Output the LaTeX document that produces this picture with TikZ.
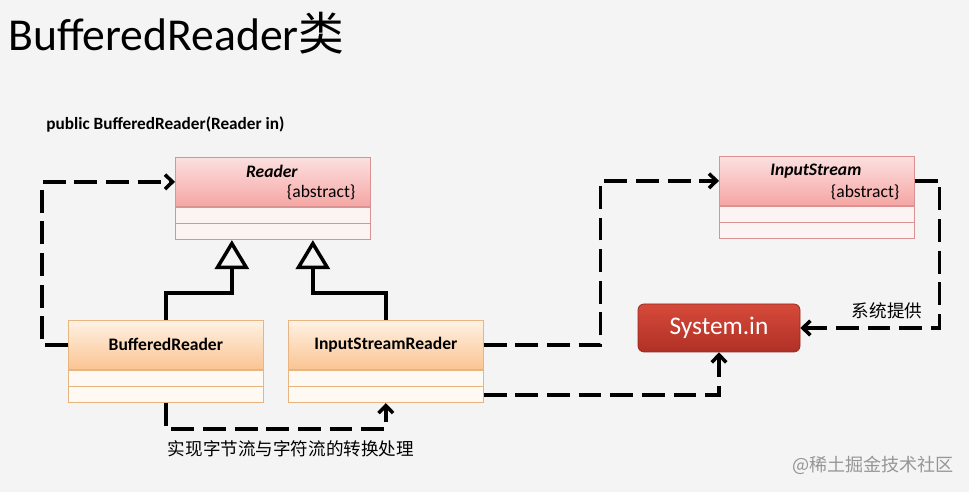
\documentclass[tikz,border=0pt]{standalone}
\usepackage{fontspec}
\setmainfont{Carlito}
\newfontfamily\cjk{Noto Sans CJK SC}
\usetikzlibrary{arrows.meta, positioning, calc}
\definecolor{PageGray}{RGB}{244, 244, 244}
\definecolor{PinkTop}{RGB}{252, 224, 224}
\definecolor{PinkBottom}{RGB}{245, 166, 164}
\definecolor{PinkLine}{RGB}{218, 146, 146}
\definecolor{PinkBody}{RGB}{252, 243, 243}
\definecolor{OrangeTop}{RGB}{255, 242, 228}
\definecolor{OrangeBottom}{RGB}{250, 196, 146}
\definecolor{OrangeLine}{RGB}{232, 180, 128}
\definecolor{OrangeBody}{RGB}{255, 249, 243}
\definecolor{SysTop}{RGB}{214, 74, 58}
\definecolor{SysBottom}{RGB}{176, 48, 38}
\definecolor{MarkGray}{RGB}{150, 150, 150}

\begin{document}
\begin{tikzpicture}[x=0.2mm, y=-0.2mm, font=\fontsize{10}{12}\selectfont,
    abshead/.style={draw=PinkLine, top color=PinkTop, bottom color=PinkBottom,
        minimum width=39mm, minimum height=9.8mm, inner sep=0pt, anchor=north west},
    abscomp/.style={draw=PinkLine, fill=PinkBody, minimum width=39mm, minimum height=3.2mm, inner sep=0pt},
    conchead/.style={draw=OrangeLine, top color=OrangeTop, bottom color=OrangeBottom,
        minimum width=39mm, minimum height=9.8mm, inner sep=0pt, anchor=north west, font=\fontsize{10}{12}\selectfont\bfseries},
    concomp/.style={draw=OrangeLine, fill=OrangeBody, minimum width=39mm, minimum height=3.2mm, inner sep=0pt},
    sysbox/.style={draw=SysBottom!85!black, top color=SysTop, bottom color=SysBottom, rounded corners=1.2mm,
        minimum width=32.4mm, minimum height=9.6mm, text=white, font=\fontsize{14.4}{16}\selectfont},
    cjklabel/.style={font=\cjk\fontsize{10}{12}\selectfont, inner sep=0pt},
    dep/.style={line width=2pt, dash pattern=on 13pt off 5pt, -{Straight Barb[length=1.5mm, width=2.9mm]}},
    inherit/.style={line width=2pt, -{Triangle[open, length=5.8mm, width=6.8mm]}}]
    \fill[PageGray] (0,0) rectangle (969,492);
    % title and constructor
    \node[anchor=base west, inner sep=0pt, font=\fontsize{26}{30}\selectfont] (title) at (8,51) {BufferedReader{\cjk 类}};
    \node[anchor=west, inner sep=0pt, font=\fontsize{9.8}{12}\selectfont\bfseries] (ctor) at (46,124) {public BufferedReader(Reader in)};
    % abstract classes
    \node[abshead] (reader) at (175,157) {};
    \node[abscomp, below=0pt of reader] (readerA) {};
    \node[abscomp, below=0pt of readerA] (readerB) {};
    \node[font=\fontsize{10}{12}\selectfont\bfseries\itshape] (readerName) at ($(reader.north)+(-1,14)$) {Reader};
    \node[anchor=east] (readerAbs) at ($(reader.north east)+(-9,35)$) {\{abstract\}};
    \node[abshead] (ins) at (719,156) {};
    \node[abscomp, below=0pt of ins] (insA) {};
    \node[abscomp, below=0pt of insA] (insB) {};
    \node[font=\fontsize{10}{12}\selectfont\bfseries\itshape] (insName) at ($(ins.north)+(-1,15)$) {InputStream};
    \node[anchor=east] (insAbs) at ($(ins.north east)+(-9,36)$) {\{abstract\}};
    % concrete classes
    \node[conchead] (buf) at (68,320) {BufferedReader};
    \node[concomp, below=0pt of buf] (bufA) {};
    \node[concomp, below=0pt of bufA] (bufB) {};
    \node[conchead] (isr) at (288,320) {InputStreamReader};
    \node[concomp, below=0pt of isr] (isrA) {};
    \node[concomp, below=0pt of isrA] (isrB) {};
    \node[sysbox] (sysin) at (719,328) {System.in};
    % inheritance
    \coordinate (bufTip) at ($(readerB.south)+(-41,0)$);
    \coordinate (isrTip) at ($(readerB.south)+(40,0)$);
    \draw[inherit] (buf.north) -- ++(0,-27) -| (bufTip);
    \draw[inherit] (isr.north) -- ++(0,-27) -| (isrTip);
    % dependencies
    \draw[dep] (buf.west) -- ++(-26,0) |- (reader.west);
    \draw[dep] (bufB.south) -- ++(0,26) -| (isrB.south);
    \draw[dep] (isr.east) -- ++(117,0) |- (ins.west);
    \draw[dep] (isrB.east) -| (sysin.south);
    \draw[dep] (ins.east) -- ++(25,0) |- (sysin.east);
    \node[cjklabel] (convLabel) at (291,449) {实现字节流与字符流的转换处理};
    \node[cjklabel] (sysLabel) at (887,311) {系统提供};
    \node[cjklabel, text=MarkGray, font=\cjk\fontsize{10.3}{12}\selectfont] (mark) at (873,465) {@稀土掘金技术社区};
\end{tikzpicture}
\end{document}
